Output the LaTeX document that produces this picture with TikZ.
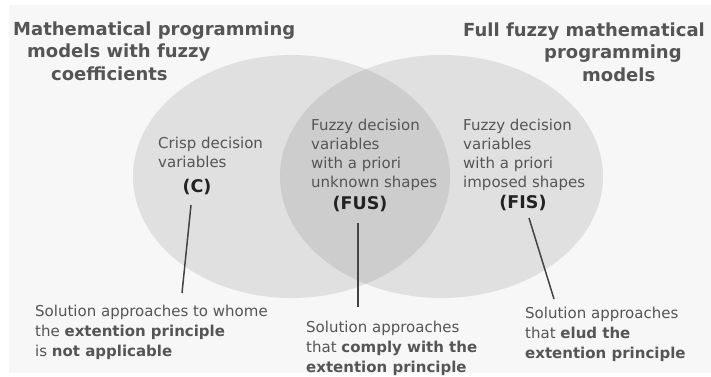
\documentclass[tikz,border=0pt]{standalone}
\usepackage{fontspec}
\setmainfont{DejaVu Sans}
\definecolor{bg}{HTML}{F7F7F7}
\definecolor{setfill}{HTML}{E0E0E0}
\definecolor{overlap}{HTML}{CDCDCD}
\definecolor{txt}{HTML}{555555}
\definecolor{tagc}{HTML}{222222}
\definecolor{lead}{HTML}{444444}
\begin{document}
\begin{tikzpicture}[x=1pt,y=-1pt,
  % multi-line nodes are placed by the baseline of their last line
  title/.style={font=\fontsize{18}{22.5}\selectfont\bfseries, text=txt, align=left, inner sep=0pt, anchor=base west},
  body/.style={font=\fontsize{15}{19}\selectfont, text=txt, align=left, inner sep=0pt, anchor=base west},
  note/.style={font=\fontsize{15}{20}\selectfont, text=txt, align=left, inner sep=0pt, anchor=base west},
  tag/.style={font=\fontsize{17.5}{20}\selectfont\bfseries, text=tagc, inner sep=0pt, anchor=base},
  leader/.style={draw=lead, line width=1.5pt}]
\useasboundingbox (0,0) rectangle (711,376);
\fill[bg] (9,5) rectangle (711,373);

% the two sets and their overlap
\fill[setfill] (291.5,176.5) ellipse [x radius=158.5, y radius=121.5];
\fill[setfill] (441.5,176.5) ellipse [x radius=161.5, y radius=121.5];
\begin{scope}
  \clip (291.5,176.5) ellipse [x radius=158.5, y radius=121.5];
  \fill[overlap] (441.5,176.5) ellipse [x radius=161.5, y radius=121.5];
\end{scope}

% set titles
\node[title] (tleft) at (13,80) {Mathematical programming\\
  \hspace*{14pt}models with fuzzy\\
  \hspace*{38pt}coefficients};
\node[title] (tright) at (463,81) {Full fuzzy mathematical\\
  \hspace*{81pt}programming\\
  \hspace*{119pt}models};

% region descriptions
\node[body] (dc) at (158,167) {Crisp decision\\variables};
\node[tag] (c) at (197,192) {(C)};
\node[body] (dfus) at (311,187) {Fuzzy decision\\variables\\with a priori\\unknown shapes};
\node[tag] (fus) at (360,209) {(FUS)};
\node[body] (dfis) at (463,187) {Fuzzy decision\\variables\\with a priori\\imposed shapes};
\node[tag] (fis) at (523,208) {(FIS)};

% solution approaches
\node[note] (sc) at (35,356) {Solution approaches to whome\\
  the \textbf{extention principle}\\
  is \textbf{not applicable}};
\node[note] (sfus) at (306,372) {Solution approaches\\
  that \textbf{comply with the}\\
  \textbf{extention principle}};
\node[note] (sfis) at (525,358) {Solution approaches\\
  that \textbf{elud the}\\
  \textbf{extention principle}};

% leader lines
\coordinate (c-a) at (191,205);
\coordinate (c-b) at (182,293);
\coordinate (fus-a) at (358,223);
\coordinate (fus-b) at (358,307);
\coordinate (fis-a) at (529,218);
\coordinate (fis-b) at (554,299);
\draw[leader] (c-a) -- (c-b);
\draw[leader] (fus-a) -- (fus-b);
\draw[leader] (fis-a) -- (fis-b);
\end{tikzpicture}
\end{document}
